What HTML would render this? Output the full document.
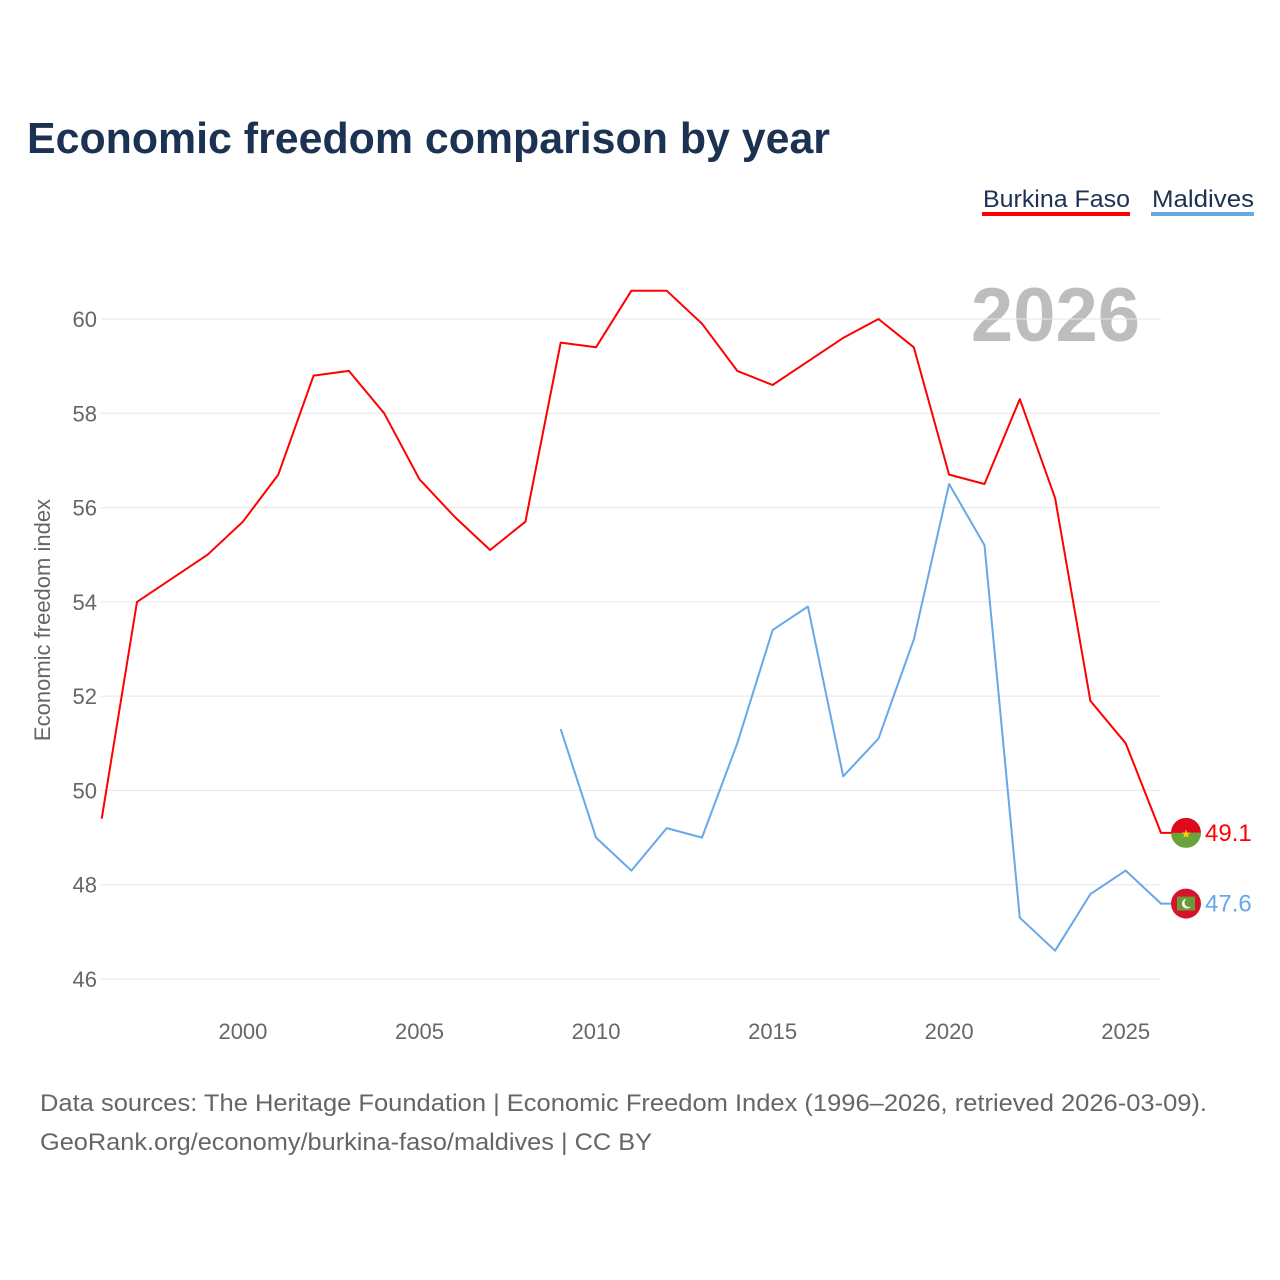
<!DOCTYPE html>
<html><head><meta charset="utf-8"><style>
html,body{margin:0;padding:0;background:#fff;width:1280px;height:1280px;overflow:hidden}
svg text{font-family:"Liberation Sans",sans-serif}
</style></head><body>
<svg id="chart" width="1280" height="1280" viewBox="0 0 1280 1280" xmlns="http://www.w3.org/2000/svg">
<text x="27" y="153" font-size="44" font-weight="bold" fill="#1b3252" textLength="803" lengthAdjust="spacingAndGlyphs">Economic freedom comparison by year</text>
<g>
<g>
<text x="983" y="207" font-size="24" fill="#1b3252" textLength="147" lengthAdjust="spacingAndGlyphs">Burkina Faso</text>
<rect x="982" y="212" width="148" height="4" fill="#ff0000"/>
</g>
<g>
<text x="1152" y="207" font-size="24" fill="#1b3252" textLength="102" lengthAdjust="spacingAndGlyphs">Maldives</text>
<rect x="1151" y="212" width="103" height="4" fill="#66a8e8"/>
</g>
</g>
<text x="1140" y="341" font-size="76" font-weight="bold" fill="#bdbdbd" text-anchor="end">2026</text>
<g id="grid"></g>
<g id="yaxis"></g>
<g id="xaxis"></g>
<text transform="translate(50,620) rotate(-90)" font-size="22" fill="#666" text-anchor="middle">Economic freedom index</text>
<g id="series"></g>
<text x="40" y="1111" font-size="24" fill="#666" textLength="1167" lengthAdjust="spacingAndGlyphs">Data sources: The Heritage Foundation | Economic Freedom Index (1996–2026, retrieved 2026-03-09).</text>
<text x="40" y="1150" font-size="24" fill="#666" textLength="612" lengthAdjust="spacingAndGlyphs">GeoRank.org/economy/burkina-faso/maldives | CC BY</text>
</svg>
<script>
const years=[1996,1997,1998,1999,2000,2001,2002,2003,2004,2005,2006,2007,2008,2009,2010,2011,2012,2013,2014,2015,2016,2017,2018,2019,2020,2021,2022,2023,2024,2025,2026];
const burkinaFaso=[49.4,54.0,54.5,55.0,55.7,56.7,58.8,58.9,58.0,56.6,55.8,55.1,55.7,59.5,59.4,60.6,60.6,59.9,58.9,58.6,59.1,59.6,60.0,59.4,56.7,56.5,58.3,56.2,51.9,51.0,49.1];
const maldives=[null,null,null,null,null,null,null,null,null,null,null,null,null,51.3,49.0,48.3,49.2,49.0,51.0,53.4,53.9,50.3,51.1,53.2,56.5,55.2,47.3,46.6,47.8,48.3,47.6];
const yTicks=[46,48,50,52,54,56,58,60];
const xTicks=[2000,2005,2010,2015,2020,2025];

const NS="http://www.w3.org/2000/svg";
const x0=101.7,x1=1161,yr0=1996,yr1=2026;
const X=v=>x0+(v-yr0)*(x1-x0)/(yr1-yr0);
const Y=v=>979-(v-46)*(660/14);
function mk(tag,attrs,parent){const e=document.createElementNS(NS,tag);for(const k in attrs)e.setAttribute(k,attrs[k]);parent.appendChild(e);return e;}
const grid=document.getElementById('grid'),ya=document.getElementById('yaxis'),xa=document.getElementById('xaxis'),ser=document.getElementById('series');
yTicks.forEach(t=>{
  const l=mk('line',{x1:101,x2:1161,y1:Y(t),y2:Y(t),stroke:'#e6e6e6','stroke-width':1},grid);
  
  
  const tx=mk('text',{x:97,y:Y(t)+8,'font-size':22,fill:'#666','text-anchor':'end'},ya);
  tx.textContent=t;
  
  
});
xTicks.forEach(t=>{
  const tx=mk('text',{x:X(t),y:1039,'font-size':22,fill:'#666','text-anchor':'middle'},xa);
  tx.textContent=t;
  
  
});
function line(vals,color,name){
  let d='';let last=null;
  vals.forEach((v,i)=>{if(v==null)return;d+=(d?'L':'M')+X(years[i]).toFixed(1)+','+Y(v).toFixed(1);last=v;});
  d+='L'+(X(yr1)+25)+','+Y(last).toFixed(1);
  const p=mk('path',{d:d,fill:'none',stroke:color,'stroke-width':2,'stroke-linejoin':'round'},ser);
  
  
  return last;
}
const bl=line(burkinaFaso,'#ff0000','burkina-faso');
const ml=line(maldives,'#66a8e8','maldives');
// flags
const cx=1186;
let by=Y(bl);
const fb=mk('g',{},ser);


mk('clipPath',{id:'cb'},fb).appendChild(Object.assign(document.createElementNS(NS,'circle'),{}));
fb.querySelector('clipPath circle').setAttribute('cx',cx);fb.querySelector('clipPath circle').setAttribute('cy',by);fb.querySelector('clipPath circle').setAttribute('r',15);
mk('rect',{x:cx-15,y:by-15,width:30,height:15,fill:'#de0a1b','clip-path':'url(#cb)'},fb);
mk('rect',{x:cx-15,y:by,width:30,height:15,fill:'#6aa23c','clip-path':'url(#cb)'},fb);
const s=mk('text',{x:cx,y:by+5,'font-size':12,fill:'#f5d10a','text-anchor':'middle'},fb);s.textContent='★';
let my=Y(ml);
const fm=mk('g',{},ser);


mk('circle',{cx:cx,cy:my,r:15,fill:'#d4142a'},fm);
mk('rect',{x:cx-9,y:my-7,width:18,height:14,fill:'#6a9a3a'},fm);
mk('circle',{cx:cx+1,cy:my,r:5,fill:'#fff'},fm);
mk('circle',{cx:cx+3,cy:my-1,r:4.5,fill:'#6a9a3a'},fm);
const lb=mk('text',{x:1205,y:by+8,'font-size':24,fill:'#ff0000'},ser);lb.textContent=bl.toFixed(1);


const lm=mk('text',{x:1205,y:my+8,'font-size':24,fill:'#66a8e8'},ser);lm.textContent=ml.toFixed(1);


</script>
</body></html>
